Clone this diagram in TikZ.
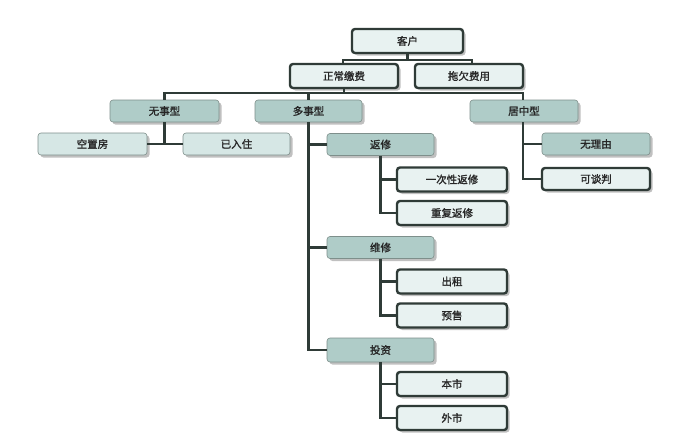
\documentclass[tikz,border=0pt]{standalone}
\usepackage{fontspec}
\usepackage{xcolor}
\usepackage{tikz}
\usetikzlibrary{shadows}
\newfontfamily\cjk[FakeBold=1.5]{Noto Sans CJK SC}

\definecolor{linedark}{HTML}{2F3B37}
\definecolor{tealmid}{HTML}{AFCCC8}
\definecolor{teallight}{HTML}{D6E7E5}
\definecolor{tealpale}{HTML}{E8F2F1}
\definecolor{rimgray}{HTML}{7E8F8B}

\tikzset{
  box/.style={rounded corners=3pt, font=\cjk\fontsize{10.5}{12}\selectfont,
    text=black!85, inner sep=0pt, minimum width=108pt, minimum height=22pt,
    drop shadow={shadow xshift=2.5pt, shadow yshift=-2.5pt, opacity=0.35, fill=black!70}},
  midbox/.style={box, draw=rimgray, line width=0.6pt, fill=tealmid},
  lightbox/.style={box, draw=rimgray, line width=0.6pt, fill=teallight},
  darkbox/.style={box, draw=linedark, line width=2.4pt, fill=tealpale, minimum height=24pt},
  link/.style={draw=linedark, line width=2.2pt}
}

\begin{document}
\begin{tikzpicture}[x=1pt, y=-1pt]
        \fill[white] (0,0) rectangle (683,445);
        \useasboundingbox (0,0) rectangle (683,445);

        % boxes
        \node[darkbox, minimum width=111pt] (kehu) at (407.5,41) {客户};
        \node[darkbox] (zhengchang) at (344,76) {正常缴费};
        \node[darkbox] (tuoqian) at (469,76) {拖欠费用};

        \node[midbox, minimum width=109pt] (wushi) at (164.5,111) {无事型};
        \node[midbox, minimum width=107pt] (duoshi) at (308.5,111) {多事型};
        \node[midbox] (juzhong) at (524,111) {居中型};

        \node[lightbox, minimum width=109pt] (kongzhi) at (92.5,144) {空置房};
        \node[lightbox, minimum width=107pt] (yiruzhu) at (236.5,144) {已入住};

        \node[midbox] (wuliyou) at (596,144) {无理由};
        \node[darkbox, minimum height=22pt] (ketanpan) at (596,179) {可谈判};

        \node[midbox, minimum width=107pt] (fanxiu) at (380.5,144.5) {返修};
        \node[midbox, minimum width=107pt] (weixiu) at (380.5,247.5) {维修};
        \node[midbox, minimum width=107pt, minimum height=24pt] (touzi) at (380.5,350) {投资};

        \node[darkbox, minimum width=110pt] (yici) at (452,179.5) {一次性返修};
        \node[darkbox, minimum width=110pt] (chongfu) at (452,213) {重复返修};
        \node[darkbox, minimum width=110pt] (chuzu) at (452,281.5) {出租};
        \node[darkbox, minimum width=110pt] (yushou) at (452,315.5) {预售};
        \node[darkbox, minimum width=110pt] (benshi) at (452,384) {本市};
        \node[darkbox, minimum width=110pt] (waishi) at (452,418) {外市};

        % connectors
        \draw[link] (kehu.south) -- ++(0,6) coordinate (k1);
        \draw[link] (k1) -| ([xshift=-1pt]zhengchang.north);
        \draw[link] (k1) -| ([xshift=3pt]tuoqian.north);
        \draw[link] (zhengchang.south) -- ++(0,4) coordinate (z1);
        \draw[link] (z1) -| (wushi.north);
        \draw[link] (z1) -| (duoshi.north);
        \draw[link] (z1) -| ([xshift=-1pt]juzhong.north);

        \draw[link] (wushi.south) -- (wushi.south |- kongzhi.east);
        \draw[link] (kongzhi.east) -- (yiruzhu.west);

        \draw[link] ([xshift=-1pt]juzhong.south) |- (wuliyou.west);
        \draw[link] ([xshift=-1pt]juzhong.south) |- (ketanpan.west);

        \draw[link] (duoshi.south) |- (fanxiu.west);
        \draw[link] (duoshi.south) |- (weixiu.west);
        \draw[link] (duoshi.south) |- (touzi.west);

        \foreach \p/\a/\b in {fanxiu/yici/chongfu, weixiu/chuzu/yushou, touzi/benshi/waishi} {
          \draw[link] (\p.south) |- (\a.west);
          \draw[link] (\p.south) |- (\b.west);
        }
    \end{tikzpicture}
\end{document}
